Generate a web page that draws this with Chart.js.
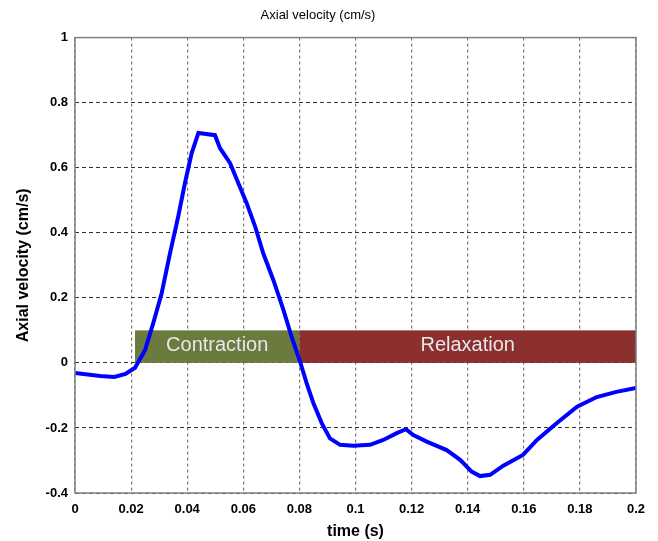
<!DOCTYPE html>
<html>
<head>
<meta charset="utf-8">
<script src="https://cdn.jsdelivr.net/npm/chart.js@4.4.0/dist/chart.umd.min.js"></script>
<style>
  html, body { margin: 0; padding: 0; background: #fff; }
  #wrap { width: 658px; height: 541px; }
</style>
</head>
<body>
<div id="wrap"><canvas id="velChart" width="658" height="541"></canvas></div>
<script>
// time (s) and axial velocity (cm/s)
const timeVals = [0, 0.009, 0.014, 0.018, 0.0214, 0.025, 0.0279, 0.0309, 0.0339, 0.0368, 0.0392, 0.0416,
  0.044, 0.0499, 0.0517, 0.0553, 0.0582, 0.0612, 0.0642, 0.0671, 0.0707, 0.0743, 0.0772, 0.0802,
  0.0826, 0.085, 0.088, 0.0909, 0.0945, 0.0992, 0.1052, 0.1099, 0.1147, 0.118, 0.1206, 0.1254, 0.1325,
  0.1373, 0.1414, 0.1444, 0.148, 0.1527, 0.1597, 0.1647, 0.1718, 0.179, 0.186, 0.193, 0.2];
const velocity = [-0.031, -0.04, -0.043, -0.034, -0.015, 0.04, 0.122, 0.214, 0.338, 0.45, 0.553, 0.645,
  0.707, 0.70, 0.66, 0.614, 0.553, 0.491, 0.42, 0.337, 0.255, 0.163, 0.081, 0.005,
  -0.063, -0.124, -0.186, -0.232, -0.252, -0.255, -0.252, -0.237, -0.216, -0.204, -0.222, -0.242, -0.268,
  -0.298, -0.334, -0.348, -0.344, -0.316, -0.283, -0.237, -0.185, -0.135, -0.105, -0.089, -0.077];

// phase bands
const phaseNames = ['Contraction', 'Relaxation'];
const phaseStart = [0.0214, 0.08];
const phaseEnd = [0.08, 0.2];
const phaseLow = [0, 0];
const phaseHigh = [0.1, 0.1];
const phaseColors = ['#6b7a3e', '#8c2f2f'];

const xTicks = [0, 0.02, 0.04, 0.06, 0.08, 0.1, 0.12, 0.14, 0.16, 0.18, 0.2];
const yTicks = [-0.4, -0.2, 0, 0.2, 0.4, 0.6, 0.8, 1];

// draws the phase bars behind the line, and the axes box on top
const phasePlugin = {
  id: 'phases',
  beforeDatasetsDraw(chart) {
    const { ctx, scales: { x, y } } = chart;
    ctx.save();
    phaseNames.forEach((name, i) => {
      const x0 = x.getPixelForValue(phaseStart[i]);
      const x1 = x.getPixelForValue(phaseEnd[i]);
      const y0 = y.getPixelForValue(phaseHigh[i]);
      const y1 = y.getPixelForValue(phaseLow[i]);
      ctx.fillStyle = phaseColors[i];
      ctx.fillRect(x0, y0, x1 - x0, y1 - y0);
      ctx.fillStyle = '#e8e8e8';
      ctx.font = '20px "Liberation Sans", Arial, sans-serif';
      ctx.textAlign = 'center';
      ctx.textBaseline = 'middle';
      ctx.fillText(name, (x0 + x1) / 2, (y0 + y1) / 2 - 1);
    });
    ctx.restore();
  },
  afterDatasetsDraw(chart) {
    const { ctx, chartArea: a } = chart;
    ctx.save();
    ctx.strokeStyle = '#808080';
    ctx.lineWidth = 1.5;
    ctx.strokeRect(a.left, a.top, a.right - a.left, a.bottom - a.top);
    ctx.restore();
  }
};

const ctx = document.getElementById('velChart').getContext('2d');

new Chart(ctx, {
  type: 'line',
  data: {
    datasets: [{
      label: 'Axial velocity',
      data: timeVals.map((t, i) => ({ x: t, y: velocity[i] })),
      borderColor: '#0000ff',
      borderWidth: 4,
      pointRadius: 0,
      tension: 0,
      fill: false
    }]
  },
  options: {
    responsive: false,
    animation: false,
    layout: { padding: { left: 0, right: 22, top: 0, bottom: 0 } },
    plugins: {
      legend: { display: false },
      tooltip: { enabled: false },
      title: {
        display: true,
        text: 'Axial velocity (cm/s)',
        color: '#000',
        font: { family: '"Liberation Sans", Arial, sans-serif', size: 13, weight: 'normal' },
        padding: { top: 8, bottom: 14 }
      }
    },
    scales: {
      x: {
        type: 'linear',
        min: 0,
        max: 0.2,
        afterBuildTicks: s => { s.ticks = xTicks.map(v => ({ value: v })); },
        afterFit: s => { s.height = 48; },
        ticks: {
          color: '#000',
          padding: 9,
          maxRotation: 0,
          font: { family: '"Liberation Sans", Arial, sans-serif', size: 13, weight: 'bold' },
          callback: v => String(+v.toFixed(2))
        },
        grid: { color: '#777', tickLength: 0, lineWidth: 1.2 },
        border: { display: false, dash: [3, 3] },
        title: {
          display: true,
          text: 'time (s)',
          color: '#000',
          padding: { top: 2, bottom: 0 },
          font: { family: '"Liberation Sans", Arial, sans-serif', size: 16, weight: 'bold' }
        }
      },
      y: {
        min: -0.4,
        max: 1,
        afterBuildTicks: s => { s.ticks = yTicks.map(v => ({ value: v })); },
        afterFit: s => { s.width = 75; },
        ticks: {
          color: '#000',
          padding: 7,
          font: { family: '"Liberation Sans", Arial, sans-serif', size: 13, weight: 'bold' },
          callback: v => String(+v.toFixed(1))
        },
        grid: { color: '#333', tickLength: 0, lineWidth: 1 },
        border: { display: false, dash: [4, 3] },
        title: {
          display: true,
          text: 'Axial velocity (cm/s)',
          color: '#000',
          padding: { top: 14, bottom: 0 },
          font: { family: '"Liberation Sans", Arial, sans-serif', size: 16, weight: 'bold' }
        }
      }
    }
  },
  plugins: [phasePlugin]
});
</script>
</body>
</html>
